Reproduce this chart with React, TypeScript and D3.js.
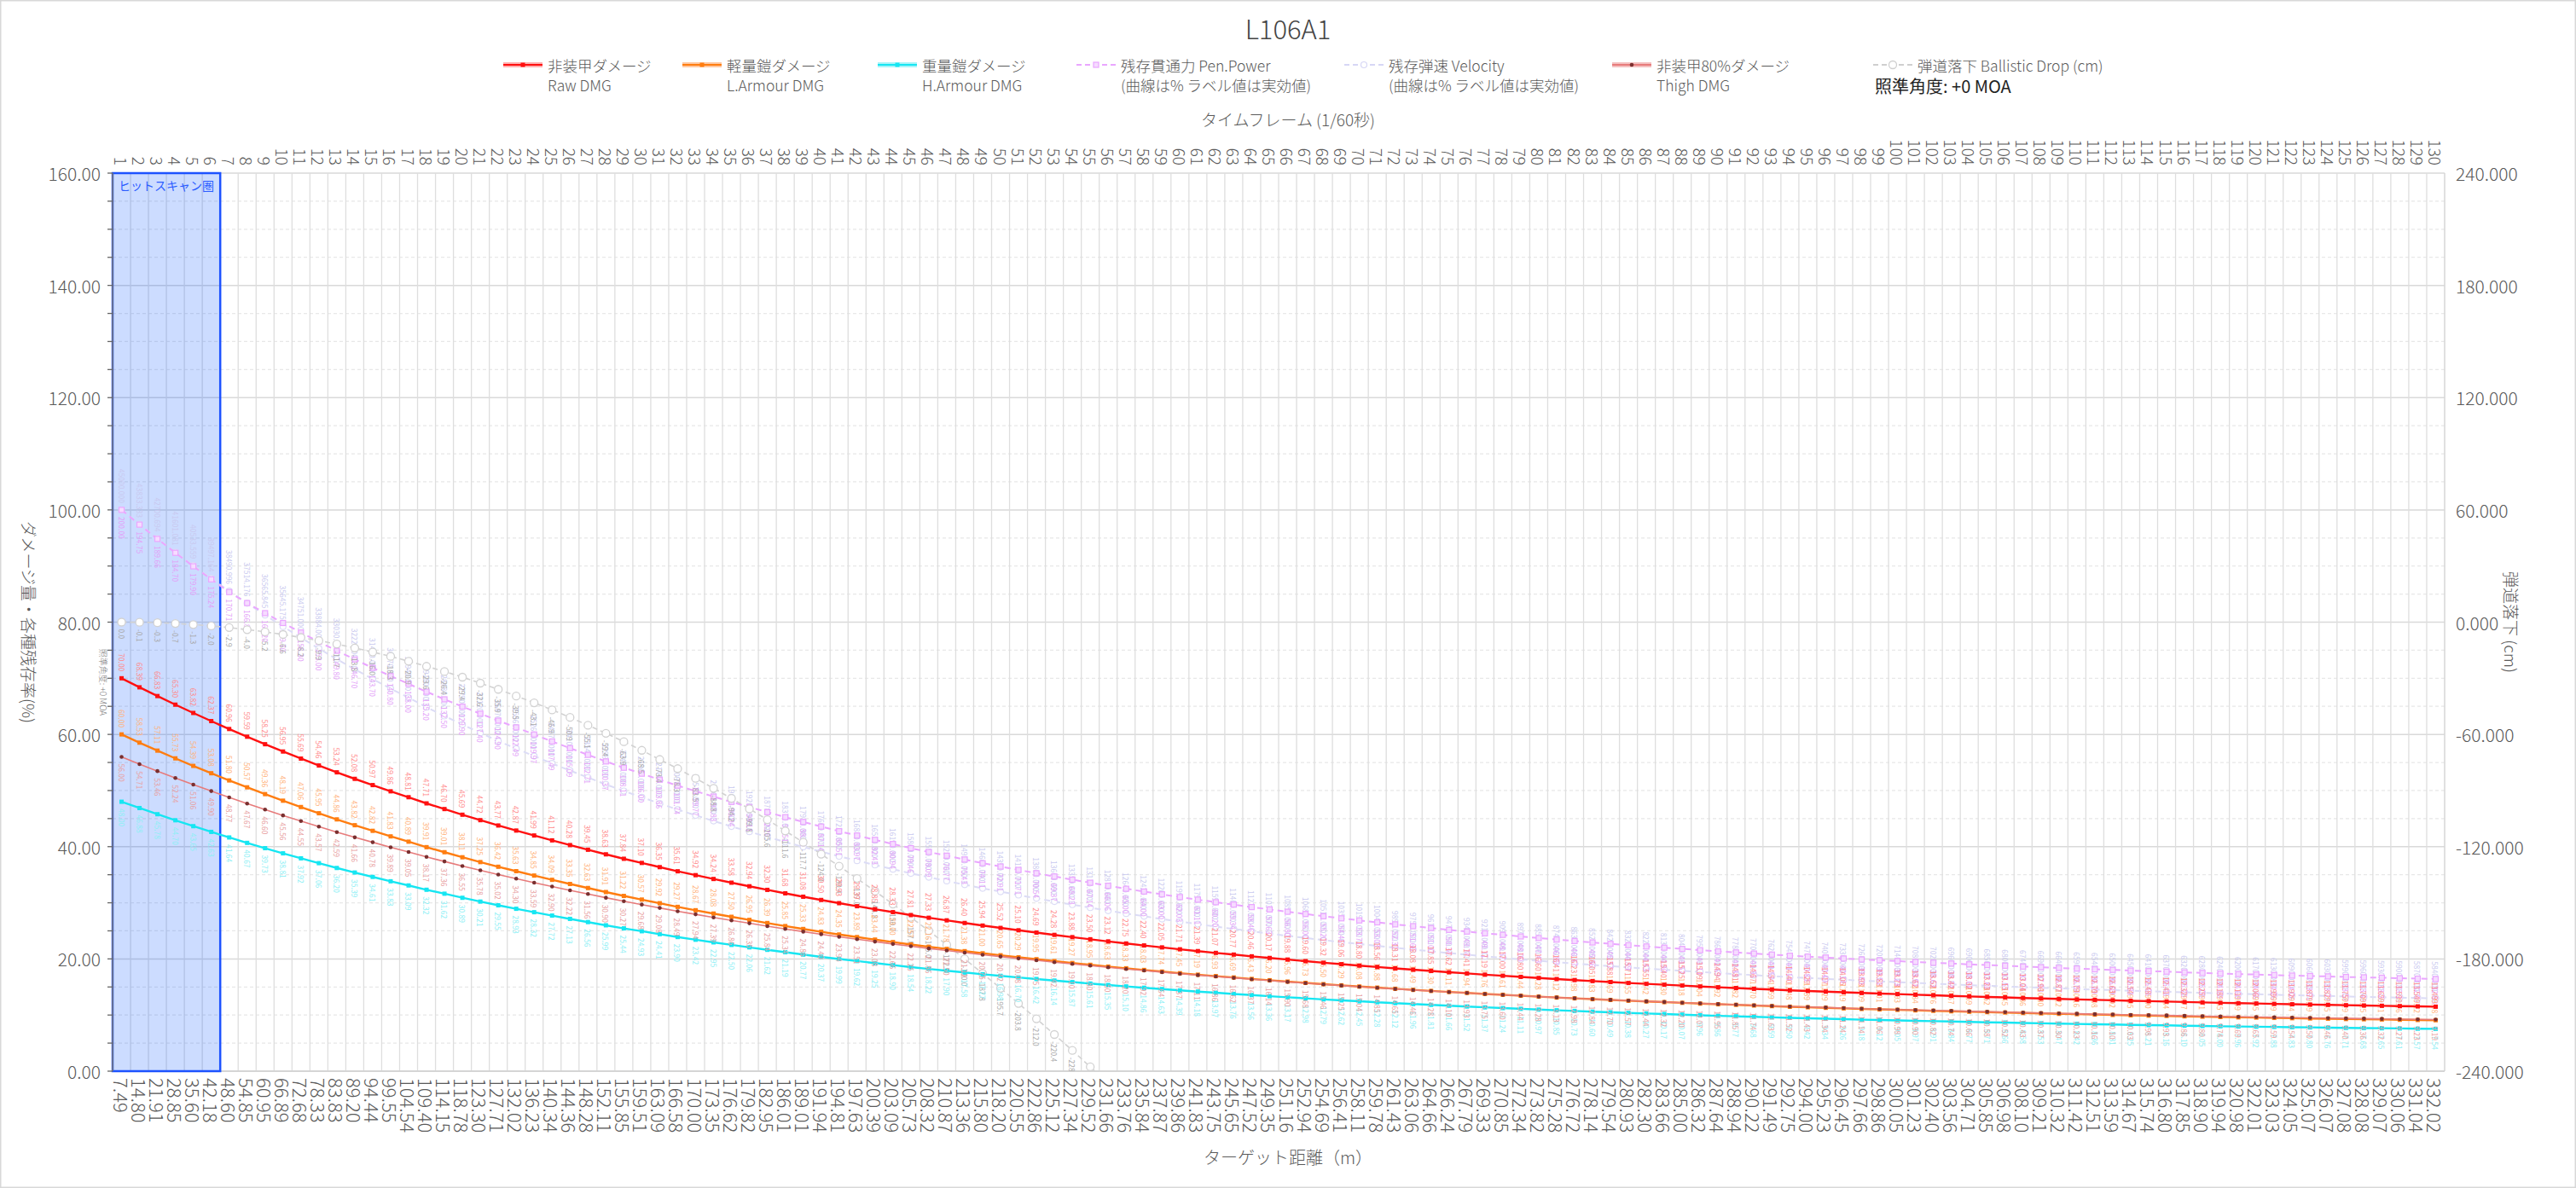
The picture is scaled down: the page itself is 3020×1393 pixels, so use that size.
import React from 'react';
import * as d3 from 'd3';

const W = 3020, H = 1393;
const PL = 132, PR = 2866, PT = 203, PB = 1256;
const FONT = "'Noto Sans CJK JP','Noto Sans',sans-serif";

const FRAMES = d3.range(1, 131);
const DISTANCE = [7.49,14.80,21.91,28.85,35.60,42.18,48.60,54.85,60.95,66.89,72.68,78.33,83.83,89.20,94.44,99.55,104.54,109.40,114.15,118.78,123.30,127.71,132.02,136.23,140.34,144.36,148.28,152.11,155.85,159.51,163.09,166.58,170.00,173.35,176.62,179.82,182.95,186.01,189.01,191.94,194.81,197.63,200.39,203.09,205.73,208.32,210.87,213.36,215.80,218.20,220.55,222.86,225.12,227.34,229.52,231.66,233.76,235.84,237.87,239.86,241.83,243.75,245.65,247.52,249.35,251.16,252.94,254.69,256.41,258.11,259.78,261.43,263.06,264.66,266.24,267.79,269.33,270.85,272.34,273.82,275.28,276.72,278.14,279.54,280.93,282.30,283.66,285.00,286.32,287.64,288.94,290.22,291.49,292.75,294.00,295.23,296.45,297.66,298.86,300.05,301.23,302.40,303.56,304.71,305.85,306.98,308.10,309.21,310.32,311.42,312.51,313.59,314.67,315.74,316.80,317.85,318.90,319.94,320.98,322.01,323.03,324.05,325.07,326.07,327.08,328.08,329.07,330.06,331.04,332.02];
const RAW_DMG = [70.00,68.39,66.83,65.30,63.82,62.37,60.96,59.59,58.25,56.95,55.69,54.46,53.24,52.08,50.97,49.86,48.81,47.71,46.70,45.69,44.72,43.77,42.87,41.99,41.12,40.28,39.45,38.63,37.84,37.10,36.35,35.61,34.92,34.24,33.58,32.94,32.30,31.68,31.08,30.50,29.93,29.39,28.85,28.33,27.81,27.33,26.87,26.40,25.94,25.52,25.10,24.69,24.28,23.88,23.50,23.12,22.75,22.40,22.05,21.71,21.39,21.07,20.77,20.46,20.17,19.88,19.60,19.32,19.06,18.80,18.56,18.31,18.08,17.85,17.62,17.41,17.19,17.00,16.80,16.60,16.41,16.23,16.05,15.88,15.71,15.55,15.40,15.25,15.09,14.94,14.81,14.67,14.54,14.40,14.29,14.17,14.05,13.93,13.83,13.73,13.62,13.52,13.42,13.32,13.23,13.15,13.04,12.96,12.87,12.79,12.70,12.63,12.54,12.48,12.41,12.32,12.25,12.18,12.11,12.06,11.99,11.92,11.87,11.82,11.75,11.70,11.65,11.59,11.54,11.49];
const L_ARMOUR = [60.00,58.53,57.11,55.73,54.39,53.08,51.80,50.57,49.36,48.19,47.06,45.95,44.86,43.82,42.82,41.83,40.89,39.91,39.01,38.11,37.25,36.42,35.63,34.85,34.09,33.35,32.63,31.91,31.22,30.57,29.92,29.27,28.67,28.08,27.50,26.95,26.39,25.85,25.33,24.83,24.35,23.89,23.44,23.00,22.57,22.16,21.78,21.38,21.00,20.65,20.29,19.95,19.61,19.27,18.95,18.63,18.33,18.03,17.74,17.45,17.19,16.93,16.69,16.43,16.20,15.96,15.73,15.50,15.29,15.08,14.88,14.68,14.49,14.30,14.11,13.94,13.76,13.61,13.44,13.28,13.12,12.98,12.83,12.69,12.55,12.42,12.30,12.18,12.04,11.92,11.82,11.70,11.59,11.48,11.39,11.29,11.19,11.09,11.01,10.93,10.84,10.76,10.67,10.59,10.52,10.45,10.36,10.30,10.22,10.16,10.08,10.02,9.95,9.90,9.84,9.77,9.71,9.65,9.59,9.55,9.49,9.44,9.39,9.35,9.29,9.25,9.21,9.16,9.12,9.08];
const H_ARMOUR = [48.00,46.88,45.78,44.70,43.65,42.63,41.64,40.67,39.73,38.81,37.92,37.06,36.20,35.39,34.61,33.83,33.09,32.32,31.62,30.89,30.21,29.55,28.93,28.32,27.72,27.13,26.56,25.99,25.44,24.93,24.41,23.90,23.42,22.95,22.50,22.06,21.62,21.19,20.77,20.37,19.99,19.62,19.25,18.90,18.54,18.22,17.90,17.58,17.27,16.98,16.70,16.42,16.14,15.87,15.61,15.35,15.10,14.86,14.63,14.39,14.18,13.97,13.76,13.56,13.36,13.17,12.98,12.79,12.62,12.45,12.28,12.12,11.96,11.81,11.66,11.52,11.37,11.24,11.11,10.97,10.85,10.73,10.60,10.49,10.38,10.27,10.17,10.07,9.96,9.86,9.77,9.68,9.59,9.50,9.42,9.34,9.26,9.18,9.12,9.05,8.97,8.91,8.84,8.77,8.71,8.66,8.58,8.53,8.47,8.42,8.36,8.31,8.25,8.21,8.16,8.10,8.05,8.00,7.96,7.92,7.88,7.83,7.80,7.76,7.71,7.68,7.65,7.61,7.57,7.54];
const THIGH_DMG = [56.00,54.71,53.46,52.24,51.06,49.90,48.77,47.67,46.60,45.56,44.55,43.57,42.59,41.66,40.78,39.89,39.05,38.17,37.36,36.55,35.78,35.02,34.30,33.59,32.90,32.22,31.56,30.90,30.27,29.68,29.08,28.49,27.94,27.39,26.86,26.35,25.84,25.34,24.86,24.40,23.94,23.51,23.08,22.66,22.25,21.86,21.50,21.12,20.75,20.42,20.08,19.75,19.42,19.10,18.80,18.50,18.20,17.92,17.64,17.37,17.11,16.86,16.62,16.37,16.14,15.90,15.68,15.46,15.25,15.04,14.85,14.65,14.46,14.28,14.10,13.93,13.75,13.60,13.44,13.28,13.13,12.98,12.84,12.70,12.57,12.44,12.32,12.20,12.07,11.95,11.85,11.74,11.63,11.52,11.43,11.34,11.24,11.14,11.06,10.98,10.90,10.82,10.74,10.66,10.58,10.52,10.43,10.37,10.30,10.23,10.16,10.10,10.03,9.98,9.93,9.86,9.80,9.74,9.69,9.65,9.59,9.54,9.50,9.46,9.40,9.36,9.32,9.27,9.23,9.19];
const PEN_POWER = [200.00,194.75,189.66,184.70,179.90,175.24,170.71,166.80,163.20,159.70,156.30,153.00,149.80,146.70,143.70,140.80,138.00,135.20,132.50,129.90,127.40,124.90,122.49,119.97,117.49,115.09,112.71,110.37,108.11,106.00,103.86,101.74,99.77,97.83,95.94,94.11,92.29,90.51,88.80,87.14,85.51,83.97,82.43,80.94,79.46,78.09,76.77,75.43,74.11,72.91,71.71,70.54,69.37,68.23,67.14,66.06,65.00,64.00,63.00,62.03,61.11,60.20,59.34,58.46,57.63,56.80,56.00,55.20,54.46,53.71,53.03,52.31,51.66,51.00,50.34,49.74,49.11,48.57,48.00,47.43,46.89,46.37,45.86,45.37,44.89,44.43,44.00,43.57,43.11,42.69,42.31,41.91,41.54,41.14,40.83,40.49,40.14,39.80,39.51,39.23,38.91,38.63,38.34,38.06,37.80,37.57,37.26,37.03,36.77,36.54,36.29,36.09,35.83,35.66,35.46,35.20,35.00,34.80,34.60,34.46,34.26,34.06,33.91,33.77,33.57,33.43,33.29,33.11,32.97,32.83];
const VELOCITY = [45000,43833.333,42700.694,41601.081,40533.559,39497.164,38490.996,37514.176,36565.845,35645.175,34751,33884,33030,32220,31440,30670,29940,29180,28480,27790,27120,26470,25860,25260,24670,24100,23540,22990,22460,21960,21460,20970,20510,20060,19620,19200,18780,18370,17980,17600,17230,16880,16530,16190,15860,15550,15250,14950,14660,14390,14120,13860,13600,13350,13110,12870,12640,12420,12200,11990,11790,11590,11400,11210,11030,10850,10680,10510,10350,10190,10040,9890,9750,9610,9470,9340,9210,9090,8970,8850,8740,8630,8520,8420,8320,8220,8130,8040,7950,7860,7780,7700,7620,7540,7470,7400,7330,7260,7200,7140,7080,7020,6960,6900,6850,6800,6740,6690,6640,6590,6540,6500,6450,6410,6370,6320,6280,6240,6200,6170,6130,6090,6060,6030,5990,5960,5930,5900,5870,5840];
const DROP = [0.0,-0.1,-0.3,-0.7,-1.3,-2.0,-2.9,-4.0,-5.2,-6.6,-8.2,-9.9,-11.7,-13.8,-16.0,-18.3,-20.9,-23.6,-26.4,-29.4,-32.6,-35.9,-39.5,-43.1,-46.9,-50.9,-55.1,-59.4,-63.9,-68.5,-73.4,-78.3,-83.5,-88.8,-94.2,-99.8,-105.6,-111.6,-117.7,-124.0,-130.4,-137.0,-143.8,-150.7,-157.8,-165.0,-172.5,-180.0,-187.8,-195.7,-203.8,-212.0,-220.4,-228.9,-237.7,-246.5];
const PEN_MAX = 200;
const VEL_MAX = 45000;
const LEFT_TICKS = [0, 20, 40, 60, 80, 100, 120, 140, 160];
const RIGHT_TICKS = [-240, -180, -120, -60, 0, 60, 120, 180, 240];
const HITSCAN_FRAMES = [1, 6];

const x = d3.scaleBand<number>().domain(FRAMES).range([PL, PR]).padding(0);
const bw = x.bandwidth();
const cx = (f: number) => (x(f) as number) + bw / 2;
const yL = d3.scaleLinear().domain([0, 160]).range([PB, PT]);
const yR = d3.scaleLinear().domain([-240, 240]).range([PB, PT]);

type Pt = { f: number; y: number; v: number };
const mk = (vals: number[], ys: (v: number, i: number) => number): Pt[] =>
  vals.map((v, i) => ({ f: FRAMES[i], y: ys(v, i), v }));

const line = d3.line<Pt>().x(d => cx(d.f)).y(d => d.y);

const series = [
  { key: 'vel', pts: mk(VELOCITY, v => yL((v / VEL_MAX) * 100)), color: '#dcdcf6', width: 2, dash: '7,5', marker: 'circleOpen', label: (v: number) => v.toFixed(3), lcolor: '#c9c9ef', pos: 'above' },
  { key: 'pen', pts: mk(PEN_POWER, v => yL((v / PEN_MAX) * 100)), color: '#eaa6ff', width: 2, dash: '7,5', marker: 'squareOpen', label: (v: number) => v.toFixed(2), lcolor: '#e3a0f8', pos: 'below' },
  { key: 'drop', pts: mk(DROP, v => yR(v)), color: '#d2d2d2', width: 1.6, dash: '6,4', marker: 'circleBig', label: (v: number) => v.toFixed(1), lcolor: '#a8a8a8', pos: 'below' },
  { key: 'h', pts: mk(H_ARMOUR, v => yL(v)), color: '#16e6f2', width: 2.4, dash: null, marker: 'square', label: (v: number) => v.toFixed(2), lcolor: '#8deff5', pos: 'below' },
  { key: 'l', pts: mk(L_ARMOUR, v => yL(v)), color: '#ff7d10', width: 2.4, dash: null, marker: 'square', label: (v: number) => v.toFixed(2), lcolor: '#ffb27a', pos: 'above' },
  { key: 'thigh', pts: mk(THIGH_DMG, v => yL(v)), color: '#e77b7b', width: 1.6, dash: null, marker: 'dot', label: (v: number) => v.toFixed(2), lcolor: '#e8a0a0', pos: 'below' },
  { key: 'raw', pts: mk(RAW_DMG, v => yL(v)), color: '#ff1010', width: 2.4, dash: null, marker: 'square', label: (v: number) => v.toFixed(2), lcolor: '#ff8a8a', pos: 'above' },
];

function Marker({ type, x0, y0, color }: { type: string; x0: number; y0: number; color: string }) {
  if (type === 'square') return <rect x={x0 - 2.5} y={y0 - 2.5} width={5} height={5} fill={color} />;
  if (type === 'squareOpen') return <rect x={x0 - 3} y={y0 - 3} width={6} height={6} fill="#f6dcff" stroke={color} strokeWidth={1.2} />;
  if (type === 'circleOpen') return <circle cx={x0} cy={y0} r={3.5} fill="#fff" stroke={color} strokeWidth={1.2} />;
  if (type === 'circleBig') return <circle cx={x0} cy={y0} r={4.5} fill="#fff" stroke={color} strokeWidth={1.3} />;
  return <circle cx={x0} cy={y0} r={2.3} fill="#7a3030" />;
}

const LEGEND = [
  { x: 590, c: '#ff1010', halo: '#ffb0b0', m: 'square', dash: null, l1: '非装甲ダメージ', l2: 'Raw DMG' },
  { x: 800, c: '#ff7d10', halo: '#ffc8a0', m: 'square', dash: null, l1: '軽量鎧ダメージ', l2: 'L.Armour DMG' },
  { x: 1029, c: '#16e6f2', halo: '#a8f4f8', m: 'square', dash: null, l1: '重量鎧ダメージ', l2: 'H.Armour DMG' },
  { x: 1262, c: '#eaa6ff', halo: null, m: 'squareOpen', dash: '6,4', l1: '残存貫通力 Pen.Power', l2: '(曲線は% ラベル値は実効値)' },
  { x: 1576, c: '#d6d6f5', halo: null, m: 'circleOpen', dash: '6,4', l1: '残存弾速 Velocity', l2: '(曲線は% ラベル値は実効値)' },
  { x: 1890, c: '#e77b7b', halo: '#f4c0c0', m: 'dot', dash: null, l1: '非装甲80%ダメージ', l2: 'Thigh DMG' },
  { x: 2196, c: '#cfcfcf', halo: null, m: 'circleBig', dash: '6,4', l1: '弾道落下 Ballistic Drop (cm)', l2: '' },
];

const TXT = '#5a5a5a';

export default function App() {
  const leftMinor = d3.range(0, 161, 5);
  const hsX0 = x(HITSCAN_FRAMES[0]) as number;
  const hsX1 = (x(HITSCAN_FRAMES[1]) as number) + bw;
  return (
    <svg width={W} height={H} style={{ position: 'absolute', left: 0, top: 0, background: '#fff' }} fontFamily={FONT} fontWeight={300}>
      <defs>
        <clipPath id="plot"><rect x={PL} y={PT} width={PR - PL} height={PB - PT} /></clipPath>
      </defs>
      <rect x={0.5} y={0.5} width={W - 1} height={H - 1} fill="#fff" stroke="#d8d8d8" strokeWidth={2} />
      <text x={1510} y={32} textAnchor="middle" dominantBaseline="central" fontSize={31} fill="#444">L106A1</text>

      {LEGEND.map((g, i) => (
        <g key={i}>
          {g.halo && <line x1={g.x} x2={g.x + 46} y1={76} y2={76} stroke={g.halo} strokeWidth={6} />}
          <line x1={g.x} x2={g.x + 46} y1={76} y2={76} stroke={g.c} strokeWidth={2} strokeDasharray={g.dash || undefined} />
          <Marker type={g.m} x0={g.x + 23} y0={76} color={g.c} />
          <text x={g.x + 52} y={76} dominantBaseline="central" fontSize={17.5} fill={TXT}>{g.l1}</text>
          {g.l2 && <text x={g.x + 52} y={99} dominantBaseline="central" fontSize={17.5} fill={TXT}>{g.l2}</text>}
        </g>
      ))}
      <text x={2198} y={100} dominantBaseline="central" fontSize={20} fontWeight={400} fill="#222">照準角度: +0 MOA</text>

      <text x={1510} y={139} textAnchor="middle" dominantBaseline="central" fontSize={19} fill={TXT}>タイムフレーム (1/60秒)</text>
      <text x={1510} y={1356} textAnchor="middle" dominantBaseline="central" fontSize={20} fill={TXT}>ターゲット距離（m）</text>
      <text transform={`translate(34,${(PT + PB) / 2}) rotate(90)`} textAnchor="middle" dominantBaseline="central" fontSize={19} fill={TXT}>ダメージ量・各種残存率(%)</text>
      <text transform={`translate(2944,${(PT + PB) / 2}) rotate(90)`} textAnchor="middle" dominantBaseline="central" fontSize={19} fill={TXT}>弾道落下 (cm)</text>

      {leftMinor.map(v => (
        <line key={'h' + v} x1={PL} x2={PR} y1={yL(v)} y2={yL(v)} stroke={v % 20 === 0 ? '#d9d9d9' : '#e8e8e8'} strokeWidth={v % 20 === 0 ? 1.5 : 1.2} strokeDasharray={v % 20 === 0 ? undefined : '4,3'} />
      ))}
      {FRAMES.map(f => (
        <line key={'v' + f} x1={x(f) as number} x2={x(f) as number} y1={PT} y2={PB} stroke="#dedede" strokeWidth={1.3} />
      ))}
      <line x1={PR} x2={PR} y1={PT} y2={PB} stroke="#d6d6d6" strokeWidth={1.5} />
      <line x1={PL} x2={PR} y1={PB} y2={PB} stroke="#d0d0d0" strokeWidth={1.5} />

      <rect x={hsX0} y={PT} width={hsX1 - hsX0} height={PB - PT} fill="rgba(0,80,255,0.2)" stroke="#1d52ff" strokeWidth={2.5} />
      <text x={(hsX0 + hsX1) / 2} y={PT + 14} textAnchor="middle" dominantBaseline="central" fontSize={14} fontWeight={400} fill="#2b5cff">ヒットスキャン圏</text>
      <text transform={`translate(121,800) rotate(90)`} textAnchor="middle" dominantBaseline="central" fontSize={10} fill="#777">照準角度: +0 MOA</text>

      <g clipPath="url(#plot)">
        {series.map(s => (
          <g key={s.key}>
            <path d={line(s.pts) || ''} fill="none" stroke={s.color} strokeWidth={s.width} strokeDasharray={s.dash || undefined} />
            {s.pts.map(p => <Marker key={p.f} type={s.marker} x0={cx(p.f)} y0={p.y} color={s.color} />)}
            {s.pts.map(p => (
              <text key={'t' + p.f} transform={`translate(${cx(p.f)},${p.y}) rotate(90)`} x={s.pos === 'above' ? -8 : 8} textAnchor={s.pos === 'above' ? 'end' : 'start'} dominantBaseline="central" fontSize={8.5} fontWeight={400} fill={s.lcolor}>{s.label(p.v)}</text>
            ))}
          </g>
        ))}
      </g>

      <line x1={PL} x2={PL} y1={PT} y2={PB} stroke="#777" strokeWidth={1.5} />
      {leftMinor.map(v => <line key={'lt' + v} x1={PL - 6} x2={PL} y1={yL(v)} y2={yL(v)} stroke="#666" strokeWidth={1.3} />)}
      {LEFT_TICKS.map(v => (
        <text key={'ll' + v} x={PL - 14} y={yL(v)} textAnchor="end" dominantBaseline="central" fontSize={21} fill={TXT}>{v.toFixed(2)}</text>
      ))}
      {RIGHT_TICKS.map(v => (
        <text key={'rl' + v} x={PR + 13} y={yR(v)} textAnchor="start" dominantBaseline="central" fontSize={21} fill={TXT}>{v.toFixed(3)}</text>
      ))}
      {FRAMES.map(f => (
        <text key={'tf' + f} transform={`translate(${cx(f)},${PT - 9}) rotate(90)`} textAnchor="end" dominantBaseline="central" fontSize={19} fill={TXT}>{f}</text>
      ))}
      {DISTANCE.map((d, i) => (
        <text key={'bd' + i} transform={`translate(${cx(FRAMES[i])},${PB + 8}) rotate(90)`} textAnchor="start" dominantBaseline="central" fontSize={22} fill={TXT}>{d.toFixed(2)}</text>
      ))}
    </svg>
  );
}
